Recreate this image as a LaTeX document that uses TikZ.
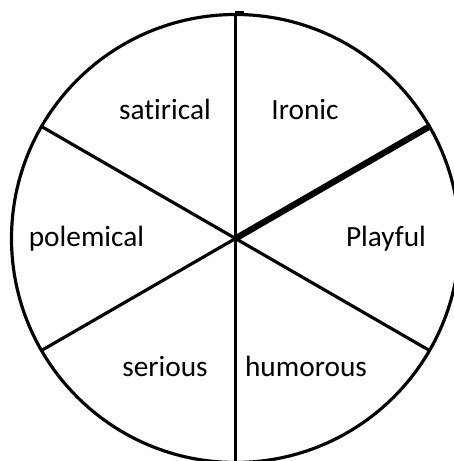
\documentclass[tikz,border=0pt]{standalone}
\usepackage{fontspec}
\setmainfont[Ligatures=NoCommon]{Carlito}
\begin{document}
\begin{tikzpicture}[
    x=0.02cm, y=-0.02cm,
    rim/.style={line width=1.8pt},
    spoke/.style={line width=1.8pt},
    boldspoke/.style={line width=3.6pt},
    word/.style={anchor=base, inner sep=0pt, font=\fontsize{16.7}{20}\selectfont}
]
\useasboundingbox (0,0) rectangle (454,461);
\clip (0,0) rectangle (454,461);
%==========================
% wheel
%==========================
\coordinate (c)    at (235.5,238.5);
\coordinate (top)  at (235.5,13);
\coordinate (stub) at (244,13);
\coordinate (bot)  at (235.5,465);
\coordinate (p30)  at (429.5,126.5);
\coordinate (p150) at (41.5,126.5);
\coordinate (p210) at (41.5,350.5);
\coordinate (p330) at (429.5,350.5);

\draw[rim] (c) circle [radius=224];

\draw[spoke] (top) -- (bot);
\draw[spoke] (top) -- (stub);
\draw[spoke] (c) -- (p150);
\draw[spoke] (c) -- (p210);
\draw[spoke] (c) -- (p330);
\draw[boldspoke] (c) -- (p30);

%==========================
% labels
%==========================
\node[word] (satirical) at (165,119.5) {satirical};
\node[word] (ironic)    at (305,119.5) {Ironic};
\node[word] (polemical) at (86.5,246.7) {polemical};
\node[word] (playful)   at (386,246.7) {Playful};
\node[word] (serious)   at (165,376)   {serious};
\node[word] (humorous)  at (306,376)   {humorous};

\end{tikzpicture}
\end{document}
